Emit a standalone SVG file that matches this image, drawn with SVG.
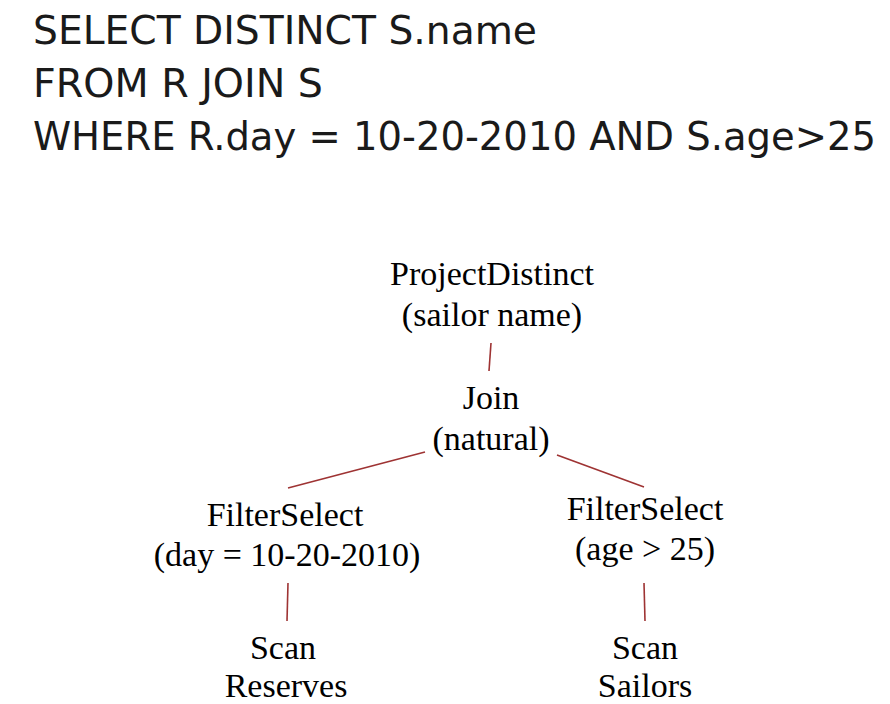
<svg xmlns="http://www.w3.org/2000/svg" width="890" height="704" viewBox="0 0 890 704">
<style>
.sql{font-family:"DejaVu Sans",Verdana,sans-serif;font-size:38.5px;fill:#1a1a1a}
.n{font-family:"Liberation Serif","Times New Roman",serif;font-size:34px;fill:#000;text-anchor:middle}
.e{stroke:#9e3333;stroke-width:1.6;fill:none}
</style>
<rect width="890" height="704" fill="#fff"/>
<g id="sql">
<text class="sql" x="33" y="44" textLength="504" lengthAdjust="spacingAndGlyphs">SELECT DISTINCT S.name</text>
<text class="sql" x="33" y="97" textLength="290" lengthAdjust="spacingAndGlyphs">FROM R JOIN S</text>
<text class="sql" x="33" y="150" textLength="843" lengthAdjust="spacingAndGlyphs">WHERE R.day = 10-20-2010 AND S.age&gt;25</text>
</g>
<g id="connectors">
<line class="e" x1="491" y1="343" x2="489" y2="371"/>
<line class="e" x1="425" y1="452" x2="288" y2="488"/>
<line class="e" x1="557" y1="455" x2="644" y2="487"/>
<line class="e" x1="288" y1="583" x2="287" y2="621"/>
<line class="e" x1="644" y1="583" x2="645" y2="621"/>
</g>
<g id="project"><text class="n" x="492" y="285">ProjectDistinct</text><text class="n" x="492" y="326">(sailor name)</text></g>
<g id="join"><text class="n" x="491" y="409">Join</text><text class="n" x="491" y="450">(natural)</text></g>
<g id="filter-left"><text class="n" x="285" y="526">FilterSelect</text><text class="n" x="287" y="566">(day = 10-20-2010)</text></g>
<g id="filter-right"><text class="n" x="645" y="520">FilterSelect</text><text class="n" x="645" y="560">(age &gt; 25)</text></g>
<g id="scan-left"><text class="n" x="283" y="659">Scan</text><text class="n" x="286" y="697">Reserves</text></g>
<g id="scan-right"><text class="n" x="645" y="659">Scan</text><text class="n" x="645" y="697">Sailors</text></g>
</svg>
